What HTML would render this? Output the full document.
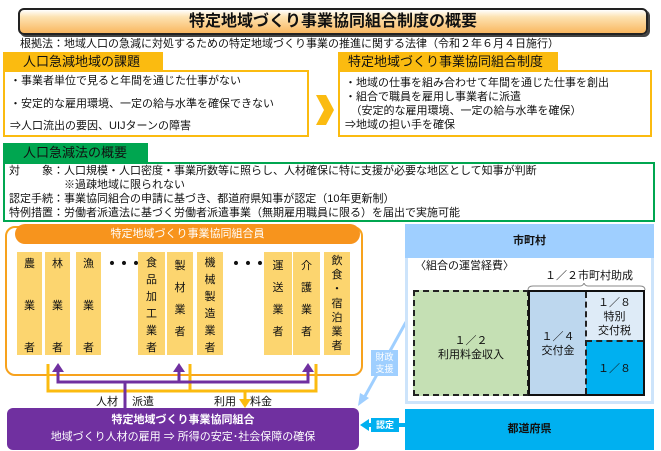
<!DOCTYPE html>
<html><head><meta charset="utf-8"><style>
*{margin:0;padding:0;box-sizing:border-box}
body{width:661px;height:451px;background:#fff;position:relative;overflow:hidden;font-family:"Liberation Sans","Noto Sans CJK JP",sans-serif;color:#111}
.a{position:absolute}
.t{font-size:11px;line-height:13px;white-space:nowrap}
.col{position:absolute;top:252px;height:103px;background:#fcd56f;font-size:11px;text-align:center;line-height:14px}
</style></head><body>
<div class="a" style="left:18px;top:8px;width:630px;height:27px;border:2px solid #222;border-radius:6px;background:linear-gradient(#fff 0%,#fde3b3 30%,#f9b760 100%);box-shadow:2px 2px 0 #444;text-align:center;font-weight:bold;font-size:16px;line-height:23px">特定地域づくり事業協同組合制度の概要</div>
<div class="a t" style="left:20px;top:38px">根拠法：地域人口の急減に対処するための特定地域づくり事業の推進に関する法律（令和２年６月４日施行）</div>
<div class="a" style="left:3px;top:52px;width:160px;height:19px;background:#fbbb10;font-size:13px;line-height:19px;padding-left:20px">人口急減地域の課題</div>
<div class="a" style="left:3px;top:70px;width:306px;height:67px;border:2px solid #fbbb10"></div>
<div class="a t" style="left:10px;top:75px">・事業者単位で見ると年間を通じた仕事がない</div>
<div class="a t" style="left:10px;top:98px">・安定的な雇用環境、一定の給与水準を確保できない</div>
<div class="a t" style="left:10px;top:120px">⇒人口流出の要因、UIJターンの障害</div>
<svg class="a" style="left:316px;top:95px" width="18" height="30"><polygon points="0,0 10,0 18,15 10,30 0,30 8,15" fill="#fbbb10"/></svg>
<div class="a" style="left:338px;top:52px;width:220px;height:19px;background:#fbbb10;font-size:13px;line-height:19px;padding-left:10px">特定地域づくり事業協同組合制度</div>
<div class="a" style="left:338px;top:70px;width:314px;height:67px;border:2px solid #fbbb10"></div>
<div class="a t" style="left:345px;top:77px">・地域の仕事を組み合わせて年間を通じた仕事を創出</div>
<div class="a t" style="left:345px;top:91px">・組合で職員を雇用し事業者に派遣</div>
<div class="a t" style="left:345px;top:105px">　（安定的な雇用環境、一定の給与水準を確保）</div>
<div class="a t" style="left:345px;top:119px">⇒地域の担い手を確保</div>
<div class="a" style="left:3px;top:143px;width:145px;height:20px;background:#00a650;font-size:13px;line-height:20px;padding-left:20px">人口急減法の概要</div>
<div class="a" style="left:3px;top:162px;width:652px;height:60px;border:2px solid #00a650"></div>
<div class="a t" style="left:9px;top:165px">対　　象：人口規模・人口密度・事業所数等に照らし、人材確保に特に支援が必要な地区として知事が判断</div>
<div class="a t" style="left:9px;top:179px">　　　　　※過疎地域に限られない</div>
<div class="a t" style="left:9px;top:193px">認定手続：事業協同組合の申請に基づき、都道府県知事が認定（10年更新制）</div>
<div class="a t" style="left:9px;top:207px">特例措置：労働者派遣法に基づく労働者派遣事業（無期雇用職員に限る）を届出で実施可能</div>
<div class="a" style="left:5px;top:226px;width:358px;height:150px;border:2px solid #f7a21d;border-radius:10px"></div>
<div class="a" style="left:15px;top:224px;width:345px;height:20px;background:#f7941d;border-radius:10px;color:#fff;font-size:11px;text-align:center;line-height:20px">特定地域づくり事業協同組合員</div>
<div class="col" style="left:17px;width:25px;padding-top:5px">農<br><br><br>業<br><br><br>者</div>
<div class="col" style="left:45px;width:25px;padding-top:5px">林<br><br><br>業<br><br><br>者</div>
<div class="col" style="left:76px;width:25px;padding-top:5px">漁<br><br><br>業<br><br><br>者</div>
<div class="a" style="left:104px;top:250px;font-size:16px;font-weight:bold;letter-spacing:-4px">・・・</div>
<div class="col" style="left:138px;width:27px;padding-top:3px;line-height:17px">食<br>品<br>加<br>工<br>業<br>者</div>
<div class="col" style="left:167px;width:26px;padding-top:3px;line-height:22px">製<br>材<br>業<br>者</div>
<div class="col" style="left:197px;width:26px;padding-top:3px;line-height:17px">機<br>械<br>製<br>造<br>業<br>者</div>
<div class="a" style="left:228px;top:250px;font-size:16px;font-weight:bold;letter-spacing:-4px">・・・</div>
<div class="col" style="left:264px;width:28px;padding-top:3px;line-height:22px">運<br>送<br>業<br>者</div>
<div class="col" style="left:293px;width:27px;padding-top:3px;line-height:22px">介<br>護<br>業<br>者</div>
<div class="col" style="left:324px;width:26px;padding-top:2px;line-height:14.2px">飲<br>食<br>・<br>宿<br>泊<br>業<br>者</div>
<svg class="a" style="left:0;top:0" width="661" height="451">
<g stroke="#fbbb10" stroke-width="3" fill="none">
<polyline points="48,364 48,391 316,391 316,364"/>
<line x1="190" y1="364" x2="190" y2="391"/>
<line x1="245" y1="391" x2="245" y2="400"/>
</g>
<polygon points="239,399 251,399 245,408" fill="#fbbb10"/>
<g stroke="#7030a0" stroke-width="3" fill="none">
<polyline points="58,370 58,382 308,382 308,370"/>
<line x1="179" y1="370" x2="179" y2="382"/>
<line x1="125" y1="382" x2="125" y2="408"/>
</g>
<g fill="#7030a0">
<polygon points="52,372 64,372 58,363"/><polygon points="173,372 185,372 179,363"/><polygon points="302,372 314,372 308,363"/>
</g>
<line x1="406" y1="322" x2="364" y2="398" stroke="#9fcfff" stroke-width="3"/>
<polygon points="358,406 360,393 369,398" fill="#9fcfff"/>
<line x1="405" y1="425" x2="368" y2="425" stroke="#00b0f0" stroke-width="4"/>
<polygon points="360,425 369,419 369,431" fill="#00b0f0"/>
</svg>
<div class="a" style="left:371px;top:350px;width:27px;height:26px;background:#9fcfff;color:#fff;font-size:9px;line-height:12px;text-align:center;padding-top:1px">財政<br>支援</div>
<div class="a" style="left:371px;top:418px;width:28px;height:14px;background:#00b0f0;color:#fff;font-size:9px;line-height:14px;text-align:center;font-weight:bold">認定</div>
<div class="a t" style="left:96px;top:396px">人材　 派遣</div>
<div class="a t" style="left:214px;top:396px">利用　 料金</div>
<div class="a" style="left:7px;top:408px;width:352px;height:42px;background:#7030a0;border-radius:6px;color:#fff;text-align:center">
<div style="font-size:11px;font-weight:bold;line-height:13px;margin-top:6px">特定地域づくり事業協同組合</div>
<div style="font-size:11px;line-height:13px;margin-top:4px">地域づくり人材の雇用 ⇒ 所得の安定･社会保障の確保</div></div>
<div class="a" style="left:405px;top:224px;width:249px;height:180px;border:3px solid #cde4fb;background:#fff"></div>
<div class="a" style="left:405px;top:224px;width:249px;height:34px;background:#9fcfff;font-size:11px;font-weight:bold;text-align:center;line-height:34px">市町村</div>
<div class="a t" style="left:415px;top:260px">〈組合の運営経費〉</div>
<div class="a t" style="left:545px;top:270px">１／２市町村助成</div>
<svg class="a" style="left:525px;top:283px" width="125" height="8"><path d="M3,7 Q3,3 8,3 L55,3 Q58,3 59,0 Q60,3 63,3 L115,3 Q120,3 120,7" stroke="#888" fill="none"/></svg>
<div class="a" style="left:413px;top:290px;width:116px;height:106px;background:#c5e0b4;border:2px dashed #222;font-size:11px;text-align:center;padding-top:42px;line-height:14px">１／２<br>利用料金収入</div>
<div class="a" style="left:528px;top:290px;width:117px;height:106px;border:2px solid #111"></div>
<div class="a" style="left:530px;top:292px;width:56px;height:102px;background:#bdd7ee;font-size:11px;text-align:center;padding-top:38px;line-height:14px">１／４<br>交付金</div>
<div class="a" style="left:586px;top:292px;width:57px;height:48px;background:#deebf7;font-size:11px;text-align:center;padding-top:4px;line-height:14px">１／８<br>特別<br>交付税</div>
<div class="a" style="left:586px;top:340px;width:57px;height:54px;background:#00b0f0;font-size:11px;text-align:center;padding-top:20px;line-height:14px;border-top:2px dashed #222">１／８</div>
<div class="a" style="left:585px;top:292px;height:102px;border-left:2px dashed #222"></div>
<div class="a" style="left:405px;top:409px;width:249px;height:41px;background:#00b0f0;font-size:11px;font-weight:bold;text-align:center;line-height:41px">都道府県</div>
</body></html>
